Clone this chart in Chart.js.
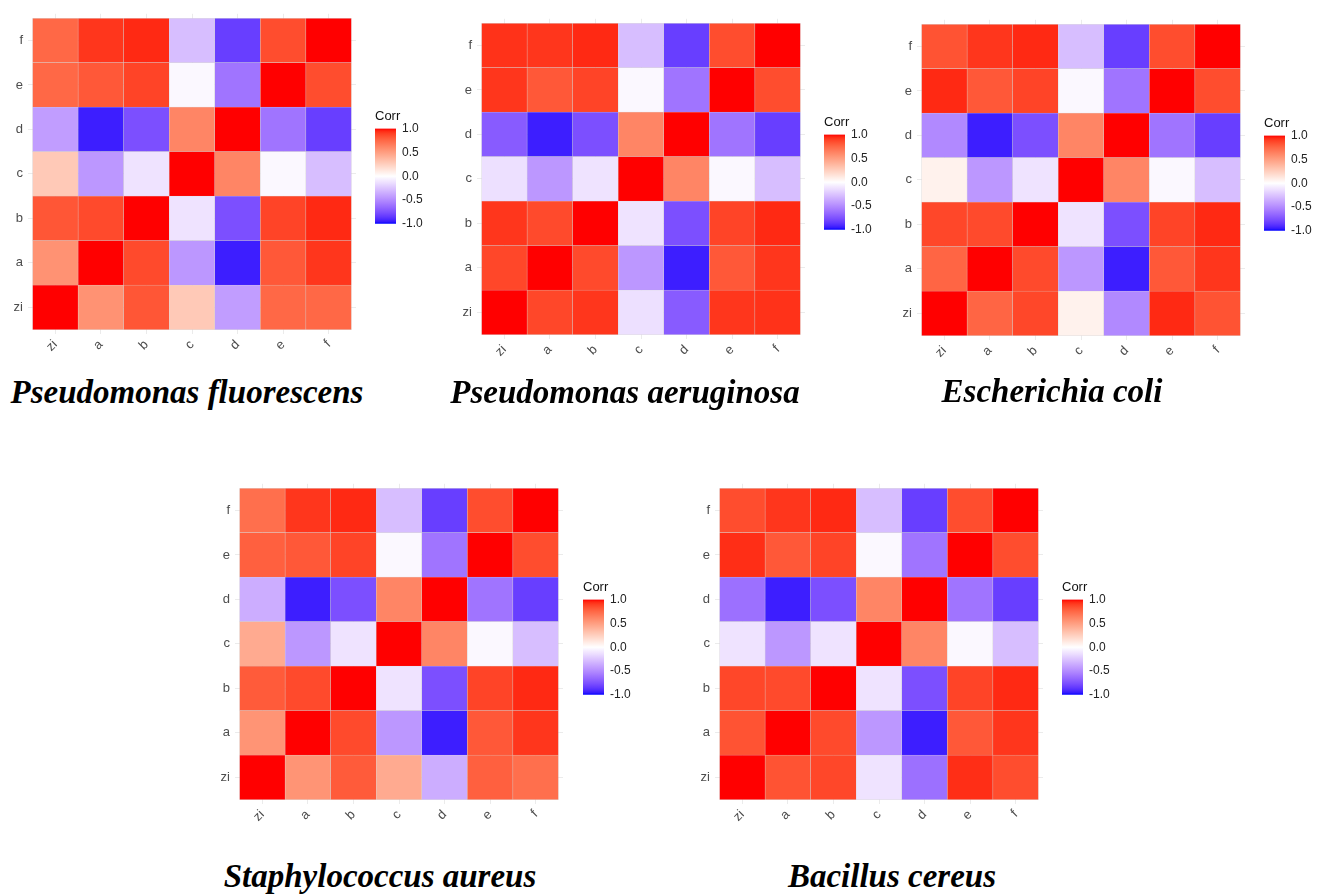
<!DOCTYPE html>
<html>
<head>
<meta charset="utf-8">
<script src="https://cdn.jsdelivr.net/npm/chart.js@4.4.1/dist/chart.umd.min.js"></script>
<style>
  body { margin: 0; background: #fff; }
  #page { position: relative; width: 1318px; height: 895px; overflow: hidden; background: #fff; }
  #page canvas { position: absolute; }
  .species {
    position: absolute; width: 500px; text-align: center; white-space: nowrap;
    font-family: "Liberation Serif", "Times New Roman", serif;
    font-weight: bold; font-style: italic; font-size: 33px; line-height: 33px; color: #000;
  }
</style>
</head>
<body>
<div id="page"></div>
<script>
const vars = ["zi", "a", "b", "c", "d", "e", "f"];
const species = ["Pseudomonas fluorescens", "Pseudomonas aeruginosa", "Escherichia coli",
                 "Staphylococcus aureus", "Bacillus cereus"];
const corrTicks = [-1, -0.5, 0, 0.5, 1];

// rows zi..f, columns zi..f
const pFluorescens = [
  [1, 0.56, 0.82, 0.28, -0.42, 0.75, 0.75],
  [0.56, 1, 0.86, -0.45, -0.94, 0.81, 0.92],
  [0.82, 0.86, 1, -0.12, -0.76, 0.88, 0.95],
  [0.28, -0.45, -0.12, 1, 0.62, -0.03, -0.28],
  [-0.42, -0.94, -0.76, 0.62, 1, -0.6, -0.83],
  [0.75, 0.81, 0.88, -0.03, -0.6, 1, 0.85],
  [0.75, 0.92, 0.95, -0.28, -0.83, 0.85, 1]
];
const pAeruginosa = [
  [1, 0.87, 0.92, -0.13, -0.71, 0.92, 0.93],
  [0.87, 1, 0.86, -0.45, -0.94, 0.81, 0.92],
  [0.92, 0.86, 1, -0.12, -0.76, 0.88, 0.95],
  [-0.13, -0.45, -0.12, 1, 0.62, -0.03, -0.28],
  [-0.71, -0.94, -0.76, 0.62, 1, -0.6, -0.83],
  [0.92, 0.81, 0.88, -0.03, -0.6, 1, 0.85],
  [0.93, 0.92, 0.95, -0.28, -0.83, 0.85, 1]
];
const eColi = [
  [1, 0.76, 0.87, 0.07, -0.51, 0.95, 0.83],
  [0.76, 1, 0.86, -0.45, -0.94, 0.81, 0.92],
  [0.87, 0.86, 1, -0.12, -0.76, 0.88, 0.95],
  [0.07, -0.45, -0.12, 1, 0.62, -0.03, -0.28],
  [-0.51, -0.94, -0.76, 0.62, 1, -0.6, -0.83],
  [0.95, 0.81, 0.88, -0.03, -0.6, 1, 0.85],
  [0.83, 0.92, 0.95, -0.28, -0.83, 0.85, 1]
];
const sAureus = [
  [1, 0.55, 0.8, 0.44, -0.35, 0.78, 0.72],
  [0.55, 1, 0.86, -0.45, -0.94, 0.81, 0.92],
  [0.8, 0.86, 1, -0.12, -0.76, 0.88, 0.95],
  [0.44, -0.45, -0.12, 1, 0.62, -0.03, -0.28],
  [-0.35, -0.94, -0.76, 0.62, 1, -0.6, -0.83],
  [0.78, 0.81, 0.88, -0.03, -0.6, 1, 0.85],
  [0.72, 0.92, 0.95, -0.28, -0.83, 0.85, 1]
];
const bCereus = [
  [1, 0.83, 0.87, -0.12, -0.62, 0.94, 0.85],
  [0.83, 1, 0.86, -0.45, -0.94, 0.81, 0.92],
  [0.87, 0.86, 1, -0.12, -0.76, 0.88, 0.95],
  [-0.12, -0.45, -0.12, 1, 0.62, -0.03, -0.28],
  [-0.62, -0.94, -0.76, 0.62, 1, -0.6, -0.83],
  [0.94, 0.81, 0.88, -0.03, -0.6, 1, 0.85],
  [0.85, 0.92, 0.95, -0.28, -0.83, 0.85, 1]
];
const matrices = [pFluorescens, pAeruginosa, eColi, sAureus, bCereus];

// placement of each panel on the page: tile block corner, colour bar corner, title centre + baseline
const panels = [
  { tileX: 33, tileY: 10.3, barX: 375, barY: 128.5, titleX: 187, titleY: 404 },
  { tileX: 481.3, tileY: 15.3, barX: 824, barY: 134.5, titleX: 625, titleY: 404 },
  { tileX: 921.3, tileY: 17, barX: 1264, barY: 136, titleX: 1052, titleY: 403 },
  { tileX: 240, tileY: 481, barX: 582.5, barY: 600, titleX: 380, titleY: 888 },
  { tileX: 719.3, tileY: 481, barX: 1062, barY: 600, titleX: 892, titleY: 888 }
];
const CELL = 45.5;
const BAR_W = 20.5, BAR_H = 100;

const page = document.getElementById("page");

// ggplot-style gradient2 (blue - white - red), interpolated in Lab
function toLinear(c) { c /= 255; return c <= 0.04045 ? c / 12.92 : Math.pow((c + 0.055) / 1.055, 2.4); }
function fromLinear(c) { c = c <= 0.0031308 ? 12.92 * c : 1.055 * Math.pow(c, 1 / 2.4) - 0.055; return Math.round(Math.max(0, Math.min(1, c)) * 255); }
function rgbToLab(rgb) {
  const r = toLinear(rgb[0]), g = toLinear(rgb[1]), b = toLinear(rgb[2]);
  let x = (0.4124 * r + 0.3576 * g + 0.1805 * b) / 0.95047;
  let y = (0.2126 * r + 0.7152 * g + 0.0722 * b);
  let z = (0.0193 * r + 0.1192 * g + 0.9505 * b) / 1.08883;
  const f = t => t > 0.008856 ? Math.cbrt(t) : 7.787 * t + 16 / 116;
  x = f(x); y = f(y); z = f(z);
  return [116 * y - 16, 500 * (x - y), 200 * (y - z)];
}
function labToRgb(lab) {
  const fy = (lab[0] + 16) / 116, fx = fy + lab[1] / 500, fz = fy - lab[2] / 200;
  const inv = t => t * t * t > 0.008856 ? t * t * t : (t - 16 / 116) / 7.787;
  const x = inv(fx) * 0.95047, y = inv(fy), z = inv(fz) * 1.08883;
  const r = 3.2406 * x - 1.5372 * y - 0.4986 * z;
  const g = -0.9689 * x + 1.8758 * y + 0.0415 * z;
  const b = 0.0557 * x - 0.2040 * y + 1.0570 * z;
  return "rgb(" + fromLinear(r) + "," + fromLinear(g) + "," + fromLinear(b) + ")";
}
const labLow = rgbToLab([0, 0, 255]), labMid = rgbToLab([255, 255, 255]), labHigh = rgbToLab([255, 0, 0]);

function corrColour(v) {
  const end = v < 0 ? labLow : labHigh;
  const t = Math.min(1, Math.abs(v));
  return labToRgb([0, 1, 2].map(k => labMid[k] + (end[k] - labMid[k]) * t));
}

function addCanvas(left, top, w, h) {
  const cv = document.createElement("canvas");
  cv.width = w; cv.height = h;
  cv.style.left = left + "px"; cv.style.top = top + "px";
  cv.style.width = w + "px"; cv.style.height = h + "px";
  page.appendChild(cv);
  return cv;
}

function heatmap(i) {
  const p = panels[i];
  const yW = 40, xH = 40, padT = 5, padR = 5;
  const area = CELL * 7.2;
  const w = Math.round(yW + area + padR), h = Math.round(padT + area + xH);
  const cv = addCanvas(p.tileX - CELL * 0.1 - yW, p.tileY - CELL * 0.1 - padT, w, h);

  const datasets = vars.map((rowName, r) => ({
    label: rowName,
    data: vars.map((colName, c) => ({ x: c + 1, y: [r + 0.5, r + 1.5] })),
    backgroundColor: matrices[i][r].map(corrColour),
    borderColor: "rgba(200,200,200,0.6)",
    borderWidth: 0.5,
    borderSkipped: false,
    grouped: false,
    barPercentage: 1,
    categoryPercentage: 1
  }));

  const axisTicks = scale => { scale.ticks = vars.map((v, k) => ({ value: k + 1 })); };

  new Chart(cv, {
    type: "bar",
    data: { datasets: datasets },
    options: {
      responsive: false,
      animation: false,
      layout: { padding: { top: padT, right: padR, left: 0, bottom: 0 } },
      scales: {
        x: {
          type: "linear", min: 0.4, max: 7.6, offset: false,
          afterBuildTicks: axisTicks,
          afterFit: s => { s.height = xH; },
          grid: { color: "#EBEBEB", lineWidth: 1, drawTicks: false, offset: false },
          border: { display: false },
          ticks: {
            autoSkip: false, maxRotation: 45, minRotation: 45, padding: 3,
            color: "#4D4D4D", font: { family: "Liberation Sans, Arial", size: 13 },
            callback: v => vars[v - 1]
          }
        },
        y: {
          type: "linear", min: 0.4, max: 7.6,
          afterBuildTicks: axisTicks,
          afterFit: s => { s.width = yW; },
          grid: { color: "#EBEBEB", lineWidth: 1, drawTicks: false },
          border: { display: false },
          ticks: {
            padding: 5,
            color: "#4D4D4D", font: { family: "Liberation Sans, Arial", size: 13 },
            callback: v => vars[v - 1]
          }
        }
      },
      plugins: { legend: { display: false }, tooltip: { enabled: false } }
    }
  });
}

function colourBar(i) {
  const p = panels[i];
  const axisW = 32, titleH = 15.6, titleGap = 4, padB = 8;
  const w = Math.round(BAR_W + axisW);
  const h = Math.round(titleH + titleGap + BAR_H + padB);
  const cv = addCanvas(p.barX, p.barY - titleH - titleGap, w, h);

  new Chart(cv, {
    type: "bar",
    data: {
      labels: ["Corr"],
      datasets: [{
        data: [[corrTicks[0], corrTicks[corrTicks.length - 1]]],
        barPercentage: 1,
        categoryPercentage: 1,
        borderWidth: 0,
        backgroundColor: ctx => {
          const ch = ctx.chart;
          if (!ch.chartArea) return "#fff";
          const ys = ch.scales.y;
          const g = ch.ctx.createLinearGradient(0, ys.getPixelForValue(-1), 0, ys.getPixelForValue(1));
          for (let k = 0; k <= 40; k++) g.addColorStop(k / 40, corrColour(-1 + k / 20));
          return g;
        }
      }]
    },
    options: {
      responsive: false,
      animation: false,
      layout: { padding: { top: 0, right: 0, left: 0, bottom: padB } },
      scales: {
        x: { display: false },
        y: {
          position: "right", min: -1, max: 1,
          afterBuildTicks: s => { s.ticks = corrTicks.map(v => ({ value: v })); },
          afterFit: s => { s.width = axisW; },
          grid: { display: false, drawTicks: false },
          border: { display: false },
          ticks: {
            padding: 6, color: "#222",
            font: { family: "Liberation Sans, Arial", size: 12 },
            callback: v => v.toFixed(1)
          }
        }
      },
      plugins: {
        legend: { display: false },
        tooltip: { enabled: false },
        title: {
          display: true, text: "Corr", align: "start", color: "#111",
          font: { family: "Liberation Sans, Arial", size: 13, weight: "normal" },
          padding: { top: 0, bottom: titleGap }
        }
      }
    }
  });
}

function speciesTitle(i) {
  const p = panels[i];
  const d = document.createElement("div");
  d.className = "species";
  d.textContent = species[i];
  d.style.left = (p.titleX - 250) + "px";
  d.style.top = (p.titleY - 27.6) + "px";
  page.appendChild(d);
}

for (let i = 0; i < species.length; i++) {
  heatmap(i);
  colourBar(i);
  speciesTitle(i);
}
</script>
</body>
</html>
